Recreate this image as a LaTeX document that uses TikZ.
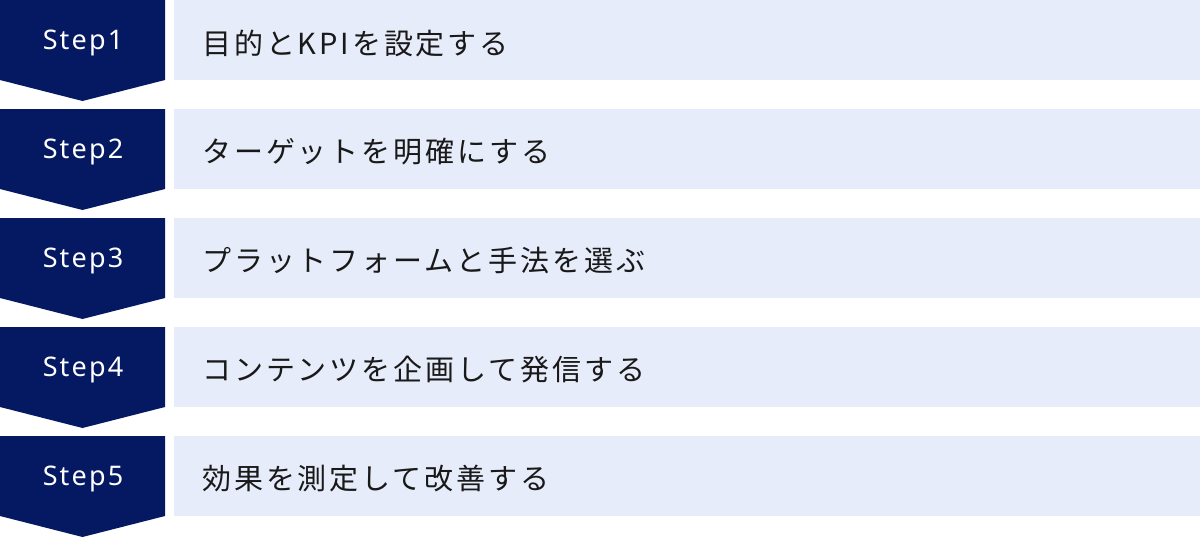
\documentclass[tikz,border=0pt]{standalone}
\usepackage{fontspec}
\newfontfamily\jpfont[LetterSpace = 10]{Noto Sans CJK JP}
\newfontfamily\stepfont[LetterSpace = 8]{Noto Sans}
\usetikzlibrary{positioning}
\definecolor{navy}{HTML}{051862}
\definecolor{pale}{HTML}{E6ECF9}

\begin{document}
\begin{tikzpicture}[x = 1pt, y = -1pt,
  steplabel/.style = {text = white, inner sep = 0pt, font = \stepfont\fontsize{27}{30}\selectfont},
  steptext/.style = {anchor = west, inner sep = 0pt, text = black!90, font = \jpfont\fontsize{29}{32}\selectfont}]
\useasboundingbox (0, 0) rectangle (1200, 538);
\foreach \i/\itext in {1/目的とKPIを設定する, 2/ターゲットを明確にする, 3/プラットフォームと手法を選ぶ, 4/コンテンツを企画して発信する, 5/効果を測定して改善する} {
  \fill[navy] (0, {(\i - 1) * 109}) -- ++(165, 0) -- ++(0, 80) -- ++(-82.5, 21) -- ++(-82.5, -21) -- cycle;
  \fill[pale] (174, {(\i - 1) * 109}) rectangle ++(1026, 80) coordinate (corner\i);
  \node[steplabel] (step\i) at (83, {(\i - 1) * 109 + 43}) {Step\i};
  \node[steptext] (text\i) at (202, {(\i - 1) * 109 + 43}) {\itext};
}
\end{tikzpicture}
\end{document}
